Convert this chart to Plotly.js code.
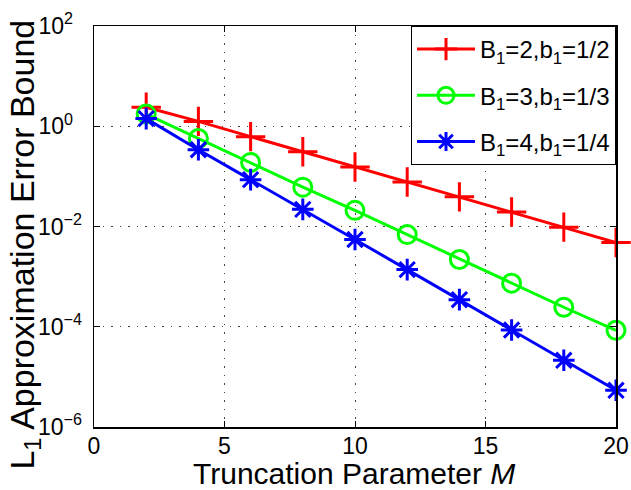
<!DOCTYPE html>
<html>
<head>
<meta charset="utf-8">
<script src="https://cdn.plot.ly/plotly-3.0.1.min.js"></script>
<style>html,body{margin:0;padding:0;background:#fff;}#chart{width:631px;height:490px;}</style>
</head>
<body>
<div id="chart"></div>
<script>
var M = [2, 4, 6, 8, 10, 12, 14, 16, 18, 20];
var boundB2 = [2.4, 1.25, 0.62, 0.31, 0.154, 0.077, 0.039, 0.0195, 0.0097, 0.0048];
var boundB3 = [1.75, 0.57, 0.19, 0.061, 0.021, 0.0069, 0.0022, 0.00074, 0.000245, 0.000085];
var boundB4 = [1.42, 0.34, 0.086, 0.022, 0.0055, 0.00138, 0.000347, 0.000086, 0.0000214, 0.0000054];
var seriesNames = ['B<sub>1</sub>=2,b<sub>1</sub>=1/2', 'B<sub>1</sub>=3,b<sub>1</sub>=1/3', 'B<sub>1</sub>=4,b<sub>1</sub>=1/4'];
var xTickVals = [0, 5, 10, 15, 20];
var yTickVals = [1e-6, 1e-4, 1e-2, 1, 100];
var yTickText = ['10<sup>\u22126</sup>', '10<sup>\u22124</sup>', '10<sup>\u22122</sup>', '10<sup>0\u2007</sup>', '10<sup>2\u2007</sup>'];
var xTitle = 'Truncation Parameter <i>M</i>';
var yTitle = 'L<sub>1</sub> Approximation Error Bound';

var traces = [
  {x: M, y: boundB2, name: seriesNames[0], legendgroup: 'a', mode: 'lines+markers', cliponaxis: false,
   line: {color: '#ff0000', width: 3},
   marker: {symbol: 'cross-thin-open', size: 21, color: '#ff0000', line: {width: 3, color: '#ff0000'}}},
  {x: M, y: boundB3, name: seriesNames[1], legendgroup: 'b', mode: 'lines+markers', cliponaxis: false,
   line: {color: '#00ff00', width: 3},
   marker: {symbol: 'circle-open', size: 18, color: '#00ff00', line: {width: 3, color: '#00ff00'}}},
  {x: M, y: boundB4, name: seriesNames[2], legendgroup: 'c', mode: 'lines+markers', cliponaxis: false,
   line: {color: '#0000ff', width: 3},
   marker: {symbol: 'asterisk-open', size: 18, color: '#0000ff', line: {width: 3, color: '#0000ff'}}}
];

var layout = {
  width: 631, height: 490,
  margin: {l: 94, r: 15, t: 26, b: 63},
  paper_bgcolor: '#ffffff', plot_bgcolor: '#ffffff',
  font: {family: 'Arial, Liberation Sans, sans-serif', color: '#000', size: 22},
  showlegend: true,
  legend: {x: 1, xanchor: 'right', y: 1, yanchor: 'top', bgcolor: '#ffffff',
           bordercolor: '#000', borderwidth: 1, font: {size: 24}, tracegroupgap: 12,
           itemwidth: 58},
  xaxis: {range: [0, 20], tickvals: xTickVals, ticktext: xTickVals.map(String),
          ticks: 'inside', ticklen: 6, tickcolor: '#000', showline: true, linecolor: '#000', linewidth: 1.5,
          mirror: 'ticks', zeroline: false, ticklabelstandoff: -2,
          showgrid: true, gridcolor: '#444', griddash: '1.5px,7px', gridwidth: 1,
          tickfont: {size: 23}},
  yaxis: {type: 'log', range: [-6, 2], tickvals: yTickVals, ticktext: yTickText,
          ticks: 'inside', ticklen: 6, tickcolor: '#000', showline: true, linecolor: '#000', linewidth: 1.5,
          mirror: 'ticks', zeroline: false, ticklabelstandoff: 6,
          showgrid: true, gridcolor: '#444', griddash: '1.5px,7px', gridwidth: 1,
          tickfont: {size: 23}},
  annotations: [
    {text: xTitle, xref: 'paper', yref: 'paper', x: 0.498, y: -0.117, xanchor: 'center', yanchor: 'middle',
     showarrow: false, font: {size: 30}},
    {text: yTitle, xref: 'paper', yref: 'paper', x: -0.134, y: 0.455, xanchor: 'center', yanchor: 'middle',
     textangle: -90, showarrow: false, font: {size: 34}}
  ]
};

Plotly.newPlot('chart', traces, layout, {displayModeBar: false, staticPlot: true});
</script>
</body>
</html>
